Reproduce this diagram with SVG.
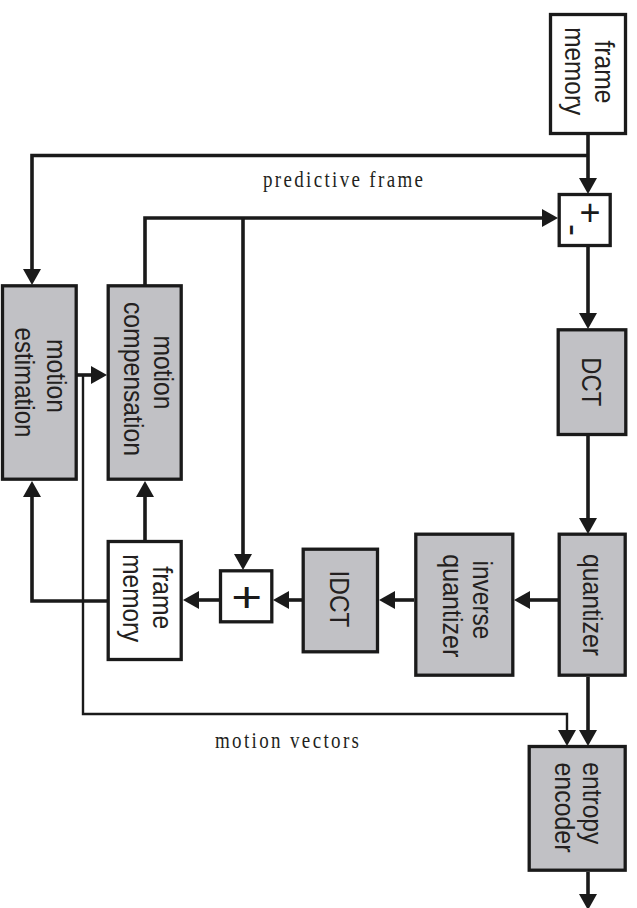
<svg xmlns="http://www.w3.org/2000/svg" width="637" height="908" viewBox="0 0 637 908">
<style>
.box{fill:#c1c1c5;stroke:#1a1a1a;stroke-width:3.3}
.wbox{fill:#ffffff;stroke:#1a1a1a;stroke-width:3.3}
.lbl{font-family:"Liberation Sans",Arial,sans-serif;font-size:27px;fill:#231f20;text-anchor:middle}
.cap{font-family:"Liberation Serif","Times New Roman",serif;font-size:19px;fill:#231f20}
.sym{font-family:"Liberation Sans",Arial,sans-serif;fill:#1a1a1a;text-anchor:middle}
.th{fill:none;stroke:#1a1a1a;stroke-width:3.6}
.tn{fill:none;stroke:#1a1a1a;stroke-width:2.4}
</style>
<defs>
<marker id="ah" markerUnits="userSpaceOnUse" viewBox="0 0 16 18" markerWidth="16" markerHeight="18" refX="1" refY="9" orient="auto">
<path d="M0,0 L16,9 L0,18 z" fill="#1a1a1a"/>
</marker>
</defs>

<g id="connectors">
<path class="th" d="M588,134 V179" marker-end="url(#ah)"/>
<path class="th" d="M588,155.5 H32 V270" marker-end="url(#ah)"/>
<path class="th" d="M145,285 V218 H543" marker-end="url(#ah)"/>
<path class="th" d="M243,218 V555" marker-end="url(#ah)"/>
<path class="th" d="M588,247 V314" marker-end="url(#ah)"/>
<path class="th" d="M588,436 V519" marker-end="url(#ah)"/>
<path class="th" d="M558,600 H529" marker-end="url(#ah)"/>
<path class="th" d="M414,600 H394" marker-end="url(#ah)"/>
<path class="th" d="M302,600 H288" marker-end="url(#ah)"/>
<path class="th" d="M219,600 H198" marker-end="url(#ah)"/>
<path class="th" d="M145,541 V496" marker-end="url(#ah)"/>
<path class="th" d="M107,601 H32 V496" marker-end="url(#ah)"/>
<path class="th" d="M77,375 H92" marker-end="url(#ah)"/>
<path class="th" d="M588,677 V731" marker-end="url(#ah)"/>
<path class="th" d="M588,872 V895" marker-end="url(#ah)"/>
<path class="tn" d="M83,375 V714 H567 V731" marker-end="url(#ah)"/>
<text class="cap" transform="translate(263,187) scale(1,1.2)" textLength="160" lengthAdjust="spacing">predictive frame</text>
<text class="cap" transform="translate(215,747.5) scale(1,1.2)" textLength="144" lengthAdjust="spacing">motion vectors</text>
</g>

<g id="frame-memory-top">
<rect class="wbox" x="550.5" y="14.5" width="75" height="119"/>
<text class="lbl" transform="translate(595,72) rotate(90)" textLength="63" lengthAdjust="spacingAndGlyphs">frame</text>
<text class="lbl" transform="translate(564.5,71.2) rotate(90)" textLength="88" lengthAdjust="spacingAndGlyphs">memory</text>
</g>

<g id="subtractor">
<rect class="wbox" x="559.2" y="194.5" width="51" height="51"/>
<text class="sym" style="font-size:36px" x="590" y="224.7">+</text>
<text class="sym" style="font-size:36px" transform="translate(562.4,230) rotate(90)">-</text>
</g>

<g id="dct">
<rect class="box" x="558.2" y="329.8" width="67.6" height="104.7"/>
<text class="lbl" transform="translate(581.7,381.7) rotate(90)" textLength="49" lengthAdjust="spacingAndGlyphs">DCT</text>
</g>

<g id="quantizer">
<rect class="box" x="559.2" y="534.2" width="66" height="141"/>
<text class="lbl" transform="translate(583.3,605) rotate(90)" textLength="102" lengthAdjust="spacingAndGlyphs">quantizer</text>
</g>

<g id="inverse-quantizer">
<rect class="box" x="415.8" y="534.2" width="97" height="141"/>
<text class="lbl" transform="translate(473.3,600) rotate(90)" textLength="79" lengthAdjust="spacingAndGlyphs">inverse</text>
<text class="lbl" transform="translate(443,605.8) rotate(90)" textLength="103" lengthAdjust="spacingAndGlyphs">quantizer</text>
</g>

<g id="idct">
<rect class="box" x="303.2" y="549.2" width="74.3" height="102.6"/>
<text class="lbl" transform="translate(330,599) rotate(90)" textLength="57" lengthAdjust="spacingAndGlyphs">IDCT</text>
</g>

<g id="adder">
<rect class="wbox" x="220.5" y="570.8" width="51.3" height="51"/>
<text class="sym" style="font-size:42px" transform="translate(246.7,611.5) scale(1.26,1)">+</text>
</g>

<g id="frame-memory-bottom">
<rect class="wbox" x="108.2" y="541.5" width="73" height="118"/>
<text class="lbl" transform="translate(153.3,597.8) rotate(90)" textLength="63" lengthAdjust="spacingAndGlyphs">frame</text>
<text class="lbl" transform="translate(123.3,598.3) rotate(90)" textLength="88" lengthAdjust="spacingAndGlyphs">memory</text>
</g>

<g id="motion-compensation">
<rect class="box" x="108.2" y="285.8" width="73" height="193.4"/>
<text class="lbl" transform="translate(154,372.5) rotate(90)" textLength="74" lengthAdjust="spacingAndGlyphs">motion</text>
<text class="lbl" transform="translate(123.5,379) rotate(90)" textLength="154" lengthAdjust="spacingAndGlyphs">compensation</text>
</g>

<g id="motion-estimation">
<rect class="box" x="2.5" y="285.8" width="73.7" height="193.4"/>
<text class="lbl" transform="translate(46.7,376) rotate(90)" textLength="74" lengthAdjust="spacingAndGlyphs">motion</text>
<text class="lbl" transform="translate(15,382.5) rotate(90)" textLength="110" lengthAdjust="spacingAndGlyphs">estimation</text>
</g>

<g id="entropy-encoder">
<rect class="box" x="529.2" y="746.5" width="96" height="123.7"/>
<text class="lbl" transform="translate(583.3,803.3) rotate(90)" textLength="82" lengthAdjust="spacingAndGlyphs">entropy</text>
<text class="lbl" transform="translate(555,807.5) rotate(90)" textLength="90" lengthAdjust="spacingAndGlyphs">encoder</text>
</g>
</svg>
